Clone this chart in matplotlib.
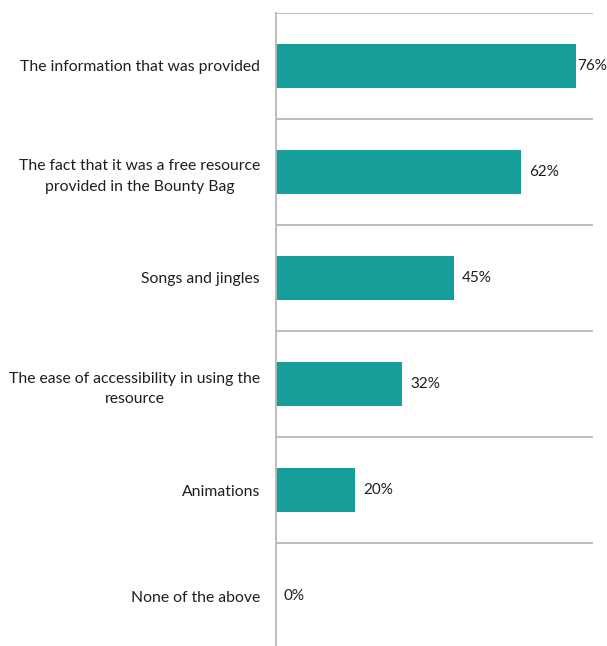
import matplotlib.pyplot as plt

plt.rcParams['font.family'] = ['Lato', 'DejaVu Sans']

categories = [
    "The information that was provided",
    "The fact that it was a free resource\nprovided in the Bounty Bag",
    "Songs and jingles",
    "The ease of accessibility in using the\nresource",
    "Animations",
    "None of the above",
]
values = [76, 62, 45, 32, 20, 0]

teal = "#169e9b"
text_color = "#1e1e1e"
grid_color = "#b8b8b8"

fig = plt.figure(figsize=(6.07, 6.46), dpi=100)
ax = fig.add_axes([276 / 607, -3 / 646, 317 / 607, 636 / 646])

pos = list(range(len(categories)))
ax.barh(pos, values, height=0.41, color=teal)

ax.set_xlim(0, 80.3)
ax.set_ylim(len(categories) - 0.5, -0.5)

# separator lines between categories
for b in range(len(categories)):
    ax.axhline(b - 0.5, color=grid_color, linewidth=1.3, zorder=0)

for s in ["top", "right", "bottom"]:
    ax.spines[s].set_visible(False)
ax.spines["left"].set_color(grid_color)
ax.spines["left"].set_linewidth(1.3)

ax.set_xticks([])
ax.set_yticks(pos)
ax.set_yticklabels(categories, fontsize=11.3, color=text_color,
                   multialignment="center", linespacing=1.55)
ax.tick_params(axis="y", length=0, pad=11.5)

for p, v in zip(pos, values):
    pad = 1 if v == max(values) else 8
    ax.annotate(f"{v}%", (v, p), xytext=(pad * 0.72, 0), textcoords="offset points",
                va="center", ha="left", fontsize=11, color=text_color)

fig.savefig("out.png", dpi=100)
